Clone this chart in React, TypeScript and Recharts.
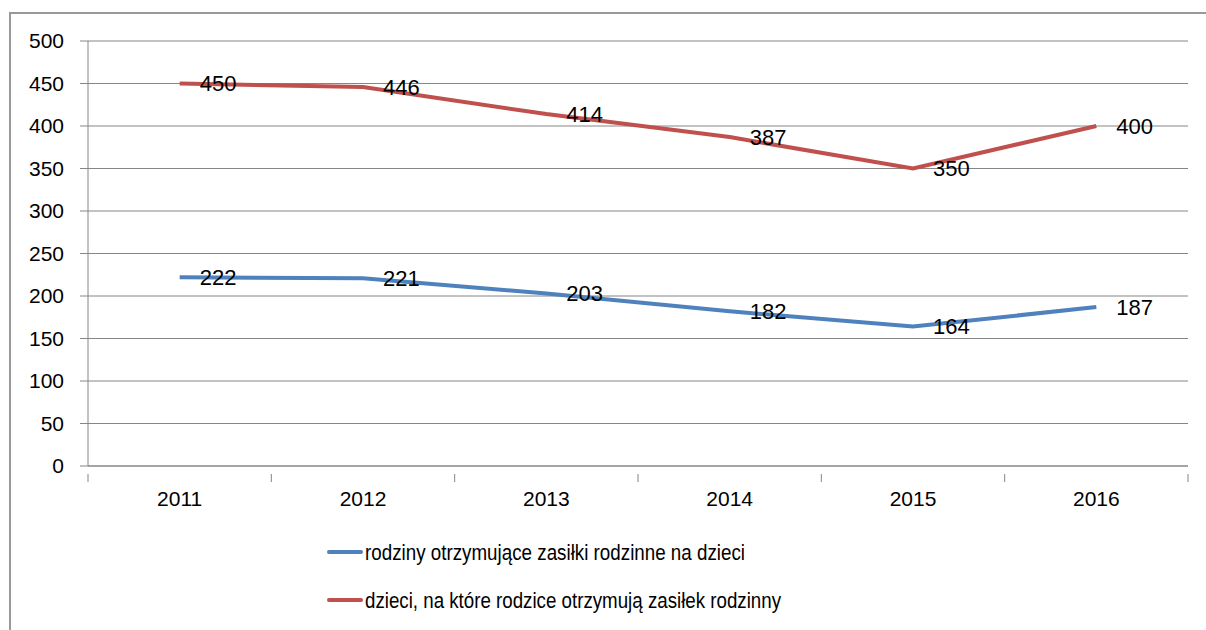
import React from 'react';
import { LineChart, Line, XAxis, YAxis, CartesianGrid, Legend, LabelList } from 'recharts';

const years = ['2011', '2012', '2013', '2014', '2015', '2016'];
const families = [222, 221, 203, 182, 164, 187];
const children = [450, 446, 414, 387, 350, 400];
const yTicks = [0, 50, 100, 150, 200, 250, 300, 350, 400, 450, 500];

const seriesNames = {
  families: 'rodziny otrzymujące zasiłki rodzinne na dzieci',
  children: 'dzieci, na które rodzice otrzymują zasiłek rodzinny',
};
const legendOrder = ['families', 'children'];

const data = years.map((year, i) => ({ year, families: families[i], children: children[i] }));

const FONT = '"Liberation Sans", Arial, sans-serif';
const AXIS = '#868686';
const BAND = 1100 / years.length;

const XTick = (props: any) => {
  const { x, y, payload, index } = props;
  const top = y;
  return (
    <g>
      <line x1={x - BAND / 2} y1={top} x2={x - BAND / 2} y2={top + 8} stroke={AXIS} />
      {index === years.length - 1 && (
        <line x1={x + BAND / 2} y1={top} x2={x + BAND / 2} y2={top + 8} stroke={AXIS} />
      )}
      <text x={x} y={top + 24} textAnchor="middle" dominantBaseline="central" fontSize={21} fill="#000" fontFamily={FONT}>
        {payload.value}
      </text>
    </g>
  );
};

const legendWidths: Record<string, number> = { families: 380, children: 416 };

const LegendBox = (props: any) => {
  const items = [...(props.payload || [])].sort(
    (a: any, b: any) => legendOrder.indexOf(a.dataKey) - legendOrder.indexOf(b.dataKey)
  );
  return (
    <svg width={700} height={90}>
      {items.map((p: any, i: number) => (
        <g key={p.value} transform={`translate(0, ${i * 48})`}>
          <line x1={2} y1={20} x2={34} y2={20} stroke={p.color} strokeWidth={4} strokeLinecap="round" />
          <text x={38} y={20} dominantBaseline="central" fontSize={22} fill="#000" fontFamily={FONT}
            textLength={legendWidths[p.dataKey]} lengthAdjust="spacingAndGlyphs">
            {p.value}
          </text>
        </g>
      ))}
    </svg>
  );
};

export default function App() {
  return (
    <div style={{ position: 'absolute', left: 0, top: 0, width: 1206, height: 630, background: '#fff', overflow: 'hidden' }}>
      <div style={{ position: 'absolute', left: 9, top: 12, width: 1220, height: 640, border: '2px solid #999', boxSizing: 'border-box' }} />
      <div style={{ position: 'absolute', left: 0, top: 0 }}>
        <LineChart width={1206} height={630} data={data} margin={{ top: 41, right: 18, left: 28, bottom: 124 }}>
          <CartesianGrid vertical={false} stroke={AXIS} strokeWidth={1} />
          <XAxis dataKey="year" scale="band" stroke={AXIS} tickLine={false} height={40} tick={<XTick />} interval={0} />
          <YAxis domain={[0, 500]} ticks={yTicks} stroke={AXIS} width={60} tickSize={8} tickMargin={16}
            tick={{ fill: '#000', fontSize: 21, fontFamily: FONT }} interval={0} />
          <Legend verticalAlign="middle" align="center" layout="horizontal" content={<LegendBox />}
            wrapperStyle={{ position: 'absolute', left: 327, top: 532, width: 700, height: 90 }} />
          <Line dataKey="families" name={seriesNames.families} stroke="#4F81BD" strokeWidth={4} dot={false} isAnimationActive={false}>
            <LabelList dataKey="families" position="right" offset={20} fill="#000" fontSize={22} fontFamily={FONT} />
          </Line>
          <Line dataKey="children" name={seriesNames.children} stroke="#C0504D" strokeWidth={4} dot={false} isAnimationActive={false}>
            <LabelList dataKey="children" position="right" offset={20} fill="#000" fontSize={22} fontFamily={FONT} />
          </Line>
        </LineChart>
      </div>
    </div>
  );
}
